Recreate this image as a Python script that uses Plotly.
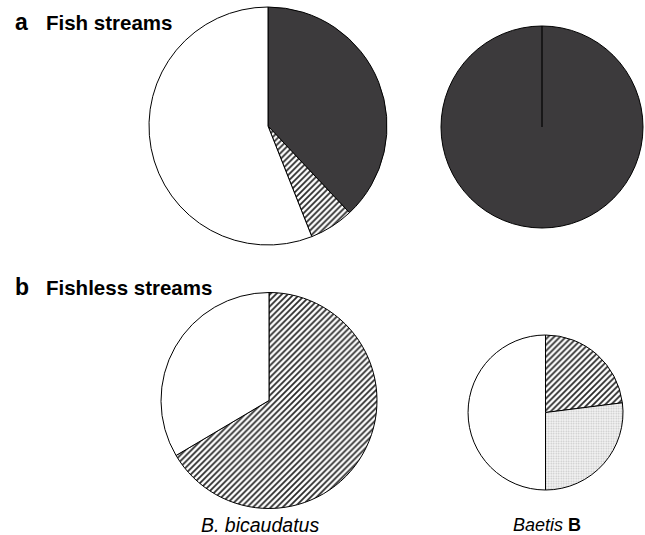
import plotly.graph_objects as go

# Diet composition (proportion of each prey category) per predator and stream type
categories = ["Category 1", "Category 2", "Category 3", "Category 4"]

fish_bicaudatus = [38.0, 6.0, 0.0, 56.0]
fish_baetis = [100.0, 0.0, 0.0, 0.0]
fishless_bicaudatus = [0.0, 66.5, 0.0, 33.5]
fishless_baetis = [0.0, 23.0, 27.0, 50.0]

panel_titles = ["Fish streams", "Fishless streams"]
panel_letters = ["a", "b"]
taxon_labels = ["B. bicaudatus", "Baetis"]
taxon_suffix = ["", "B"]

W, H = 645, 535

DARK = "#3c3a3c"
fills = {
    "Category 1": dict(color=DARK, pattern=dict(shape="")),
    "Category 2": dict(color="white", pattern=dict(shape="/", fgcolor="#2a2a2a", bgcolor="white",
                                                   size=4.2, solidity=0.42)),
    "Category 3": dict(color="white", pattern=dict(shape=".", fgcolor="#c4c4c4", bgcolor="#f5f5f5",
                                                   size=2.5, solidity=0.35)),
    "Category 4": dict(color="white", pattern=dict(shape="")),
}


def px_domain(cx, cy, r):
    """Convert a pixel centre/radius into a paper-coordinate pie domain."""
    return dict(x=[(cx - r) / W, (cx + r) / W],
                y=[(H - (cy + r)) / H, (H - (cy - r)) / H])


def pie(values, domain):
    labs = [c for c, v in zip(categories, values) if v > 0]
    vals = [v for v in values if v > 0]
    colors = [fills[c]["color"] for c in labs]
    patterns = [fills[c]["pattern"] for c in labs]
    return go.Pie(
        labels=labs, values=vals, sort=False, direction="clockwise", rotation=0,
        domain=domain, textinfo="none", hoverinfo="label+percent", showlegend=False,
        marker=dict(
            colors=colors,
            line=dict(color="black", width=1),
            pattern=dict(
                shape=[p["shape"] for p in patterns],
                fgcolor=[p.get("fgcolor", "black") for p in patterns],
                bgcolor=[p.get("bgcolor", c) for p, c in zip(patterns, colors)],
                size=[p.get("size", 8) for p in patterns],
                solidity=[p.get("solidity", 0.3) for p in patterns],
            ),
        ),
    )


layout_px = {
    "fish_bicaudatus": (268, 126, 119),
    "fish_baetis": (542, 127, 101),
    "fishless_bicaudatus": (269, 400.5, 108),
    "fishless_baetis": (545.5, 412.5, 77.5),
}

data = {
    "fish_bicaudatus": fish_bicaudatus,
    "fish_baetis": fish_baetis,
    "fishless_bicaudatus": fishless_bicaudatus,
    "fishless_baetis": fishless_baetis,
}

fig = go.Figure()
for key in data:
    fig.add_trace(pie(data[key], px_domain(*layout_px[key])))

# A single full slice is drawn as a plain disc; mark its start boundary at 12 o'clock
d = px_domain(*layout_px["fish_baetis"])
xc = (d["x"][0] + d["x"][1]) / 2
yc = (d["y"][0] + d["y"][1]) / 2
shapes = [dict(type="line", xref="paper", yref="paper", x0=xc, x1=xc, y0=yc, y1=d["y"][1],
               line=dict(color="black", width=1.2))]

font = "Liberation Sans, Arial, Helvetica, sans-serif"
annotations = []
for letter, title, y in zip(panel_letters, panel_titles, [22, 287]):
    annotations.append(dict(
        x=13 / W, y=(H - y) / H, xref="paper", yref="paper", xanchor="left", yanchor="middle",
        text=f"<b>{letter}</b>", showarrow=False, font=dict(family=font, size=23, color="black")))
    annotations.append(dict(
        x=44 / W, y=(H - y) / H, xref="paper", yref="paper", xanchor="left", yanchor="middle",
        text=f"<b>{title}</b>", showarrow=False, font=dict(family=font, size=20.5, color="black")))

for label, suffix, cx, size in zip(taxon_labels, taxon_suffix, [260, 547], [19.5, 18]):
    txt = f"<i>{label}</i>" + (f" <b>{suffix}</b>" if suffix else "")
    annotations.append(dict(
        x=cx / W, y=(H - 525) / H, xref="paper", yref="paper", xanchor="center", yanchor="middle",
        text=txt, showarrow=False, font=dict(family=font, size=size, color="black")))

fig.update_layout(
    width=W, height=H, margin=dict(l=0, r=0, t=0, b=0),
    paper_bgcolor="white", plot_bgcolor="white",
    shapes=shapes, annotations=annotations,
)

fig.write_html("out.html")
